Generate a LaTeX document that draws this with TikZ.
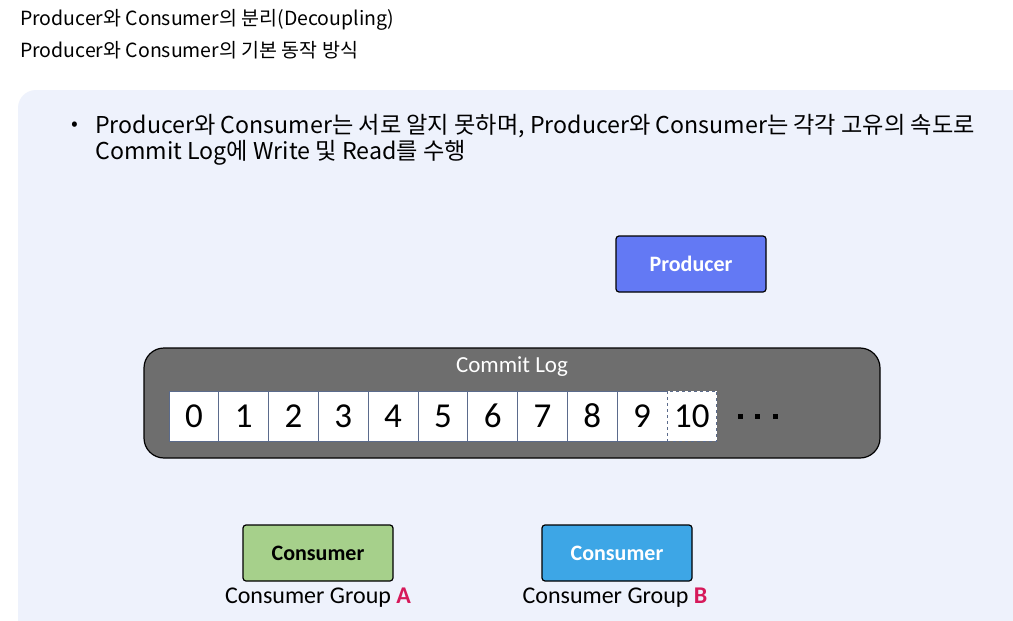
\documentclass[tikz,border=0pt]{standalone}
\usepackage{fontspec}
\setmainfont{Noto Sans CJK KR}
\newfontfamily\calfont{Carlito}
\definecolor{panelbg}{HTML}{EEF2FC}
\definecolor{logbg}{HTML}{6E6E6E}
\definecolor{cellline}{HTML}{5B6B8C}
\definecolor{prodfill}{HTML}{6379F4}
\definecolor{consA}{HTML}{A6D08B}
\definecolor{consB}{HTML}{3DA6E6}
\definecolor{grpred}{HTML}{D6195A}
\begin{document}
\begin{tikzpicture}[x=1pt,y=-1pt,
  box/.style={draw=black,line width=1.2pt,rounded corners=3pt,minimum width=150pt,minimum height=56pt,inner sep=0pt,font=\calfont\bfseries\fontsize{22}{26}\selectfont},
  cell/.style={draw=cellline,line width=0.8pt,fill=white,minimum width=49.8pt,minimum height=50pt,inner sep=0pt,font=\calfont\fontsize{35}{38}\selectfont},
  grplabel/.style={font=\calfont\fontsize{24}{28}\selectfont,inner sep=0pt},
  dot/.style={fill=black,minimum size=5pt,inner sep=0pt},
  title/.style={font=\fontsize{19.5}{22}\selectfont,anchor=west,inner sep=0pt},
  bullettext/.style={font=\fontsize{23.2}{29}\selectfont,anchor=west,inner sep=0pt}]
\useasboundingbox[fill=white] (0,0) rectangle (1013,621);
% panel
\fill[panelbg,rounded corners=18pt] (18,90) rectangle (1040,650);
% titles
\node[title] (t1) at (20,20) {Producer와 Consumer의 분리(Decoupling)};
\node[title] (t2) at (20,50) {Producer와 Consumer의 기본 동작 방식};
% bullet
\node[font=\fontsize{20}{22}\selectfont,inner sep=0pt] (bul) at (75,126) {•};
\node[bullettext] (b1) at (95,126) {Producer와 Consumer는 서로 알지 못하며, Producer와 Consumer는 각각 고유의 속도로};
\node[bullettext] (b2) at (95,153) {Commit Log에 Write 및 Read를 수행};
% producer
\node[box,fill=prodfill,text=white] (prod) at (691,264) {Producer};
% commit log
\node[draw=black,line width=1.2pt,fill=logbg,rounded corners=20pt,minimum width=736pt,minimum height=110pt,inner sep=0pt] (log) at (512,403) {};
\node[font=\calfont\fontsize{23}{26}\selectfont,text=white,inner sep=0pt] (logt) at (512,367) {Commit Log};
\foreach \i in {0,...,9}{
  \node[cell] (c\i) at ({169+24.9+49.8*\i},416) {\i};
}
\node[cell,dashed] (c10) at ({169+24.9+49.8*10},416) {10};
\node[dot] (d1) at (740,416) {};
\node[dot] (d2) at (757,416) {};
\node[dot] (d3) at (775,416) {};
% consumers
\node[box,fill=consA,text=black] (ca) at (318,553) {Consumer};
\node[box,fill=consB,text=white] (cb) at (617,553) {Consumer};
\node[grplabel] (ga) at (318,598) {Consumer Group \textcolor{grpred}{\bfseries A}};
\node[grplabel] (gb) at (615,598) {Consumer Group \textcolor{grpred}{\bfseries B}};
\end{tikzpicture}
\end{document}
